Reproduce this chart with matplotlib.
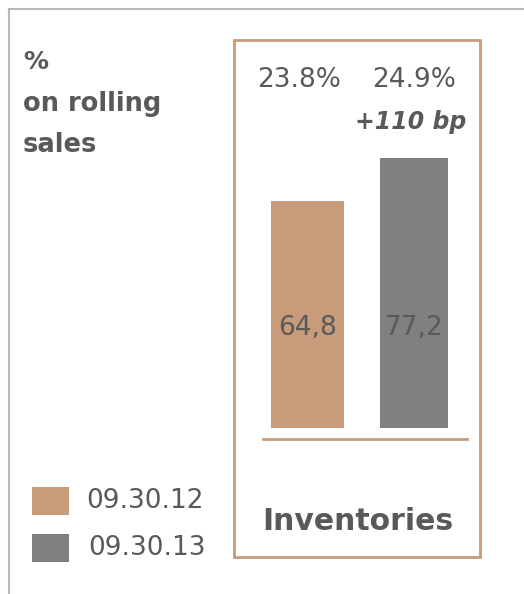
import matplotlib.pyplot as plt
from matplotlib.patches import Rectangle
from matplotlib.lines import Line2D

# data
periods = ["09.30.12", "09.30.13"]
inventories = [64.8, 77.2]
value_labels = ["64,8", "77,2"]
pct_labels = ["23.8%", "24.9%"]
delta_label = "+110 bp"
category = "Inventories"

colors = ["#C89B7B", "#808080"]
text_col = "#595959"

W, H = 524, 594
fig = plt.figure(figsize=(W / 100, H / 100), dpi=100)


def fx(px):
    return px / W


def fy(py):
    # pixel measured from the top of the image
    return 1 - py / H


# outer grey frame (only top and left visible)
fig.add_artist(Line2D([fx(9), 1], [fy(9), fy(9)], color="#b8b8b8", lw=1.5))
fig.add_artist(Line2D([fx(9), fx(9)], [fy(9), 0], color="#b8b8b8", lw=1.5))

# tan box around the chart
fig.add_artist(Rectangle((fx(234), fy(557)), fx(480 - 234), (557 - 40) / H,
                         fill=False, edgecolor="#C89B7B", lw=2))

# bars
ax = fig.add_axes([fx(234), fy(428), fx(480 - 234), (428 - 40) / H])
x = [0, 1]
ax.bar(x, inventories, width=[0.69, 0.64], color=colors)
ax.set_xlim(-0.69, 1.62)
ax.set_ylim(0, (428 - 40) / 3.5)
ax.axis("off")

for xi, lab in zip(x, value_labels):
    ax.text(xi, 28.5, lab, ha="center", va="center", fontsize=19, color=text_col)

for xi, lab in zip(x, pct_labels):
    ax.text(xi - 0.08 if xi == 0 else xi, 99.4, lab, ha="center", va="center",
            fontsize=19, color=text_col)
ax.text(1.49, 87.4, delta_label, ha="right", va="center", fontsize=17,
        color=text_col, fontweight="bold", fontstyle="italic")

# baseline under the bars
fig.add_artist(Line2D([fx(263), fx(467)], [fy(439), fy(439)], color="#C89B7B", lw=2))

# category label
fig.text(fx(358), fy(522), category, ha="center", va="center", fontsize=21.5,
         fontweight="bold", color=text_col)

# left title
fig.text(fx(23), fy(62), "%", ha="left", va="center", fontsize=18,
         fontweight="bold", color=text_col)
fig.text(fx(23), fy(104), "on rolling", ha="left", va="center", fontsize=18.5,
         fontweight="bold", color=text_col)
fig.text(fx(23), fy(145), "sales", ha="left", va="center", fontsize=18.5,
         fontweight="bold", color=text_col)

# legend
for i, (p, c) in enumerate(zip(periods, colors)):
    top = 487 + i * 47
    fig.add_artist(Rectangle((fx(32), fy(top + 28)), fx(37), 28 / H,
                             facecolor=c, edgecolor="none"))
    fig.text(fx(86 + 2 * i), fy(top + 14), p, ha="left", va="center",
             fontsize=19, color=text_col)

fig.savefig("out.png", dpi=100, facecolor="white")
